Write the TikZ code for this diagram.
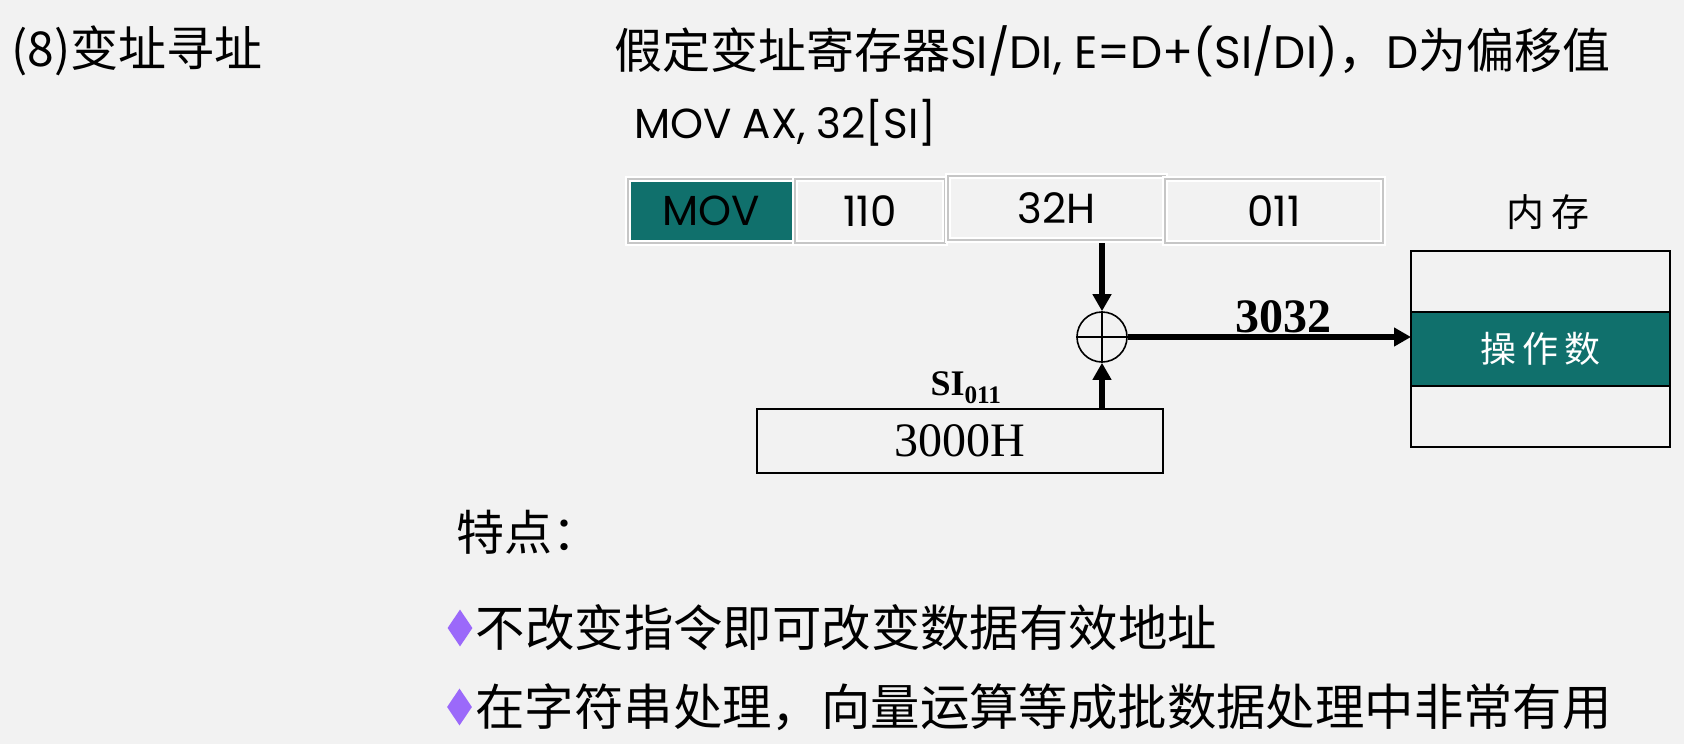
\documentclass[tikz,border=0pt]{standalone}
\usepackage{fontspec}
\setmainfont{Liberation Serif}
\newfontfamily\cjk{Noto Sans CJK SC}
\newfontfamily\geo{Poppins}
\usetikzlibrary{shapes.geometric,arrows.meta,positioning,shadows}
\definecolor{slidebg}{RGB}{242,242,242}
\definecolor{opteal}{RGB}{16,112,108}
\definecolor{bulletviolet}{RGB}{155,105,250}

\begin{document}
\begin{tikzpicture}[x=1pt,y=-1pt,
  every node/.style={inner sep=0pt},
  txt/.style={anchor=west,font=\cjk\fontsize{48}{58}\selectfont},
  fld/.style={rectangle,draw=white,double=gray!45,line width=2pt,double distance=1.2pt,outer sep=0pt,
    minimum height=64pt,fill=slidebg,font=\geo\fontsize{42}{50}\selectfont,
    drop shadow={shadow xshift=2pt,shadow yshift=-3pt,opacity=.25}},
  cell/.style={rectangle,draw,line width=2pt,outer sep=0pt,minimum width=259pt},
  arr/.style={-{Triangle[length=17pt,width=18pt]},line width=5.5pt},
  pip/.style={diamond,fill=bulletviolet,minimum width=25pt,minimum height=37pt}
]
\useasboundingbox (0,0) rectangle (1684,744);
\fill[slidebg] (0,0) rectangle (1684,744);

% titles
\node[txt] (ttl) at (11,51) {(8)变址寻址};
\node[txt] (hdr) at (614,51) {假定变址寄存器{\geo\fontsize{45.5}{58}\selectfont SI/DI, E=D+(SI/DI)}，{\geo\fontsize{45.5}{58}\selectfont D}为偏移值};
\node[txt,font=\geo\fontsize{42}{50}\selectfont] (asm) at (634,123) {MOV AX, 32[SI]};

% instruction fields
\node[fld,fill=opteal,minimum width=167pt] (op) at (711.5,211) {MOV};
\node[fld,minimum width=150pt,right=0pt of op] (rd) {110};
\node[fld,minimum width=217pt,right=3pt of rd,yshift=3pt] (disp) {32H};
\node[fld,minimum width=218pt,right=0pt of disp,yshift=-3pt] (rs) {011};

% adder and index register
\node[circle,draw,line width=1.6pt,minimum size=50pt] (plus) at (1102,337) {};
\draw[line width=1.6pt] (plus.north) -- (plus.south) (plus.west) -- (plus.east);
\node[rectangle,draw,line width=2pt,minimum width=406pt,minimum height=64pt,
  font=\fontsize{48}{56}\selectfont] (si) at (960,441) {3000H};
\node[above=4pt of si,xshift=6pt,font=\bfseries\fontsize{36}{44}\selectfont] (silbl) {SI\textsubscript{011}};

% memory
\node[cell,minimum height=74pt,fill=opteal,text=white,font=\cjk\fontsize{36}{42}\selectfont] (mem2) at (1540.5,349) {操\hspace{6pt}作\hspace{6pt}数};
\node[cell,minimum height=61pt,above=0pt of mem2] (mem1) {};
\node[cell,minimum height=61pt,below=0pt of mem2] (mem3) {};
\node[font=\cjk\fontsize{38}{44}\selectfont] (memlbl) at (1548,212) {内\hspace{8pt}存};

\draw[arr] ([yshift=-3pt]plus |- disp.south) -- (plus.north);
\draw[arr] (plus |- si.north) -- (plus.south);
\draw[arr] (plus.east) -- (plus -| mem2.west)
  node[pos=0.55,above=1pt,font=\bfseries\fontsize{48}{56}\selectfont] {3032};

% notes
\node[txt] (feat) at (456,532) {特点：};
\node[pip] (dia1) at (460,628) {};
\node[txt,right=3pt of dia1,font=\cjk\fontsize{49.4}{58}\selectfont] (pt1) {不改变指令即可改变数据有效地址};
\node[pip] (dia2) at (459.5,707) {};
\node[txt,right=3pt of dia2,font=\cjk\fontsize{49.4}{58}\selectfont] (pt2) {在字符串处理，向量运算等成批数据处理中非常有用};
\end{tikzpicture}
\end{document}
